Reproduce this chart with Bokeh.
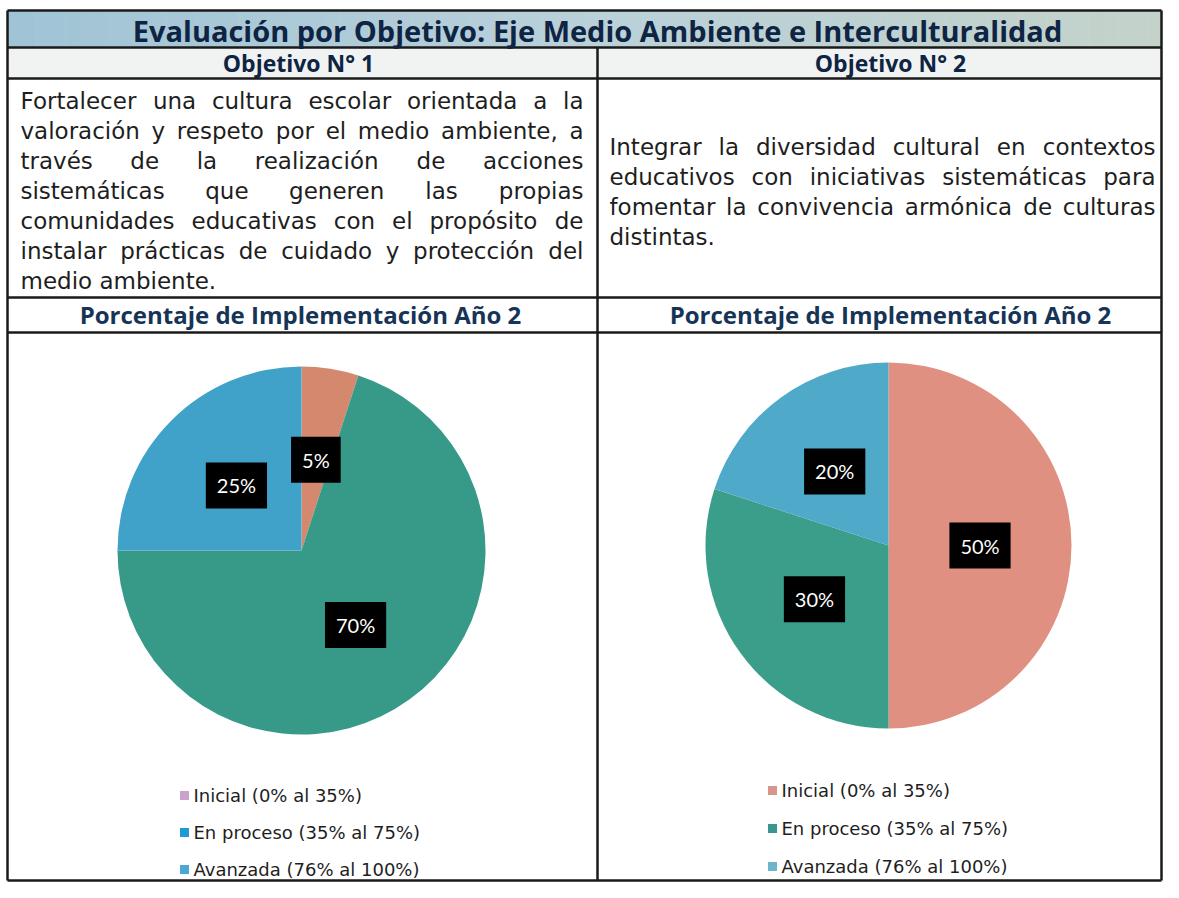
import numpy as np
from bokeh.plotting import figure
from bokeh.models import Range1d
from bokeh.core.properties import value
from bokeh.embed import file_html
from bokeh.resources import INLINE

# ---------------- data ----------------
title = "Evaluación por Objetivo: Eje Medio Ambiente e Interculturalidad"
objective_heads = ["Objetivo N° 1", "Objetivo N° 2"]
objective_1 = [
    "Fortalecer una cultura escolar orientada a la",
    "valoración y respeto por el medio ambiente, a",
    "través de la realización de acciones",
    "sistemáticas que generen las propias",
    "comunidades educativas con el propósito de",
    "instalar prácticas de cuidado y protección del",
    "medio ambiente.",
]
objective_2 = [
    "Integrar la diversidad cultural en contextos",
    "educativos con iniciativas sistemáticas para",
    "fomentar la convivencia armónica de culturas",
    "distintas.",
]
chart_title = "Porcentaje de Implementación Año 2"
categories = ["Inicial (0% al 35%)", "En proceso (35% al 75%)", "Avanzada (76% al 100%)"]
values_1 = [5, 70, 25]
values_2 = [50, 30, 20]

# ---------------- styles ----------------
pie_colors_1 = ["#d4896f", "#379a88", "#40a2c9"]
pie_colors_2 = ["#df9080", "#3a9e8a", "#4fa9c9"]
legend_colors_1 = ["#c9a3c9", "#1e9bd6", "#4ba8d6"]
legend_colors_2 = ["#d8968a", "#3b9690", "#6db5cc"]
NAVY = "#0e2442"
BODY = "#1e1e1e"
LINE = "#1a1a1a"
HEAD_FONT = "Open Sans"
BODY_FONT = "DejaVu Sans"

W, H = 1163, 882
H_REF = 898


def Y(py):
    return H_REF - py


p = figure(width=W, height=H, output_backend="svg", toolbar_location=None,
           x_range=Range1d(0, W), y_range=Range1d(Y(H), Y(0)),
           x_axis_location=None, y_axis_location=None, min_border=0,
           background_fill_color="white", border_fill_color="white")
p.grid.visible = False
p.outline_line_color = None

XL, XR, XM = 7, 1161, 597

# title band gradient
n = 80
xs = np.linspace(XL, XR, n + 1)
stops = np.array([[160, 196, 214], [186, 209, 218], [196, 211, 202]], dtype=float)
cols = []
for i in range(n):
    t = i / (n - 1) * 2
    k = min(int(t), 1)
    f = t - k
    c = stops[k] * (1 - f) + stops[k + 1] * f
    cols.append("#%02x%02x%02x" % tuple(int(v) for v in c))
p.quad(left=xs[:-1], right=xs[1:] + 0.5, top=Y(10), bottom=Y(47), fill_color=cols, line_color=None)
# second row light background
p.quad(left=[XL], right=[XR], top=[Y(47)], bottom=[Y(78)], fill_color="#f1f3f3", line_color=None)

# table lines
hy = [10, 47, 78, 297, 332, 880]
p.segment(x0=[XL] * len(hy), x1=[XR] * len(hy), y0=[Y(v) for v in hy], y1=[Y(v) for v in hy],
          line_color=LINE, line_width=2.5)
p.segment(x0=[XL, XM, XR], x1=[XL, XM, XR], y0=[Y(10), Y(47), Y(10)], y1=[Y(880)] * 3,
          line_color=LINE, line_width=2.5)

# titles
p.text(x=[597], y=[Y(30)], text=[title], text_font=value(HEAD_FONT), text_font_style="bold",
       text_font_size="29px", text_color=NAVY, text_align="center", text_baseline="middle")
p.text(x=[298, 890], y=[Y(62), Y(62)], text=objective_heads, text_font=value(HEAD_FONT),
       text_font_style="bold", text_font_size="23px", text_color=NAVY,
       text_align="center", text_baseline="middle")
p.text(x=[300, 890], y=[Y(314), Y(314)], text=[chart_title, chart_title], text_font=value(HEAD_FONT),
       text_font_style="bold", text_font_size="24px", text_color="#163456",
       text_align="center", text_baseline="middle")

# justified paragraph text (DejaVu Sans advance widths, em)
CW = {" ": 0.318, ".": 0.318, ",": 0.318}
base = {"a": .613, "b": .635, "c": .55, "d": .635, "e": .615, "f": .352, "g": .635, "h": .634,
        "i": .278, "j": .278, "k": .579, "l": .278, "m": .974, "n": .634, "o": .612, "p": .635,
        "q": .635, "r": .411, "s": .521, "t": .392, "u": .634, "v": .592, "w": .818, "x": .592,
        "y": .592, "z": .525, "á": .613, "é": .615, "í": .278, "ó": .612, "ú": .634, "ñ": .634,
        "F": .575, "I": .295}
CW.update(base)


def est_width(word, size):
    return sum(CW.get(ch, 0.68) for ch in word) * size


BODY_SIZE = 23


def justify(lines, x0, x1, py0, dy):
    L = dict(x=[], y=[], t=[])
    R = dict(x=[], y=[], t=[])
    for i, line in enumerate(lines):
        yy = Y(py0 + i * dy)
        words = line.split()
        if i == len(lines) - 1 or len(words) == 1:
            L["x"].append(x0); L["y"].append(yy); L["t"].append(line)
            continue
        widths = [est_width(w, BODY_SIZE) for w in words]
        gap = (x1 - x0 - sum(widths)) / (len(words) - 1)
        pos = x0
        for j, w in enumerate(words):
            if j == len(words) - 1:
                R["x"].append(x1); R["y"].append(yy); R["t"].append(w)
            else:
                L["x"].append(pos); L["y"].append(yy); L["t"].append(w)
            pos += widths[j] + gap
    for d, al in ((L, "left"), (R, "right")):
        p.text(x=d["x"], y=d["y"], text=d["t"], text_font=value(BODY_FONT),
               text_font_size="%dpx" % BODY_SIZE,
               text_color=BODY, text_align=al, text_baseline="middle")


justify(objective_1, 20, 583, 100, 30)
justify(objective_2, 609, 1155, 146, 30)


# pies
def pie(vals, colors, cx, cy, r):
    v = np.array(vals, dtype=float)
    cum = np.concatenate([[0], np.cumsum(v)]) / v.sum()
    start = np.pi / 2 - 2 * np.pi * cum[:-1]
    end = np.pi / 2 - 2 * np.pi * cum[1:]
    p.wedge(x=cx, y=cy, radius=r, start_angle=start, end_angle=end, direction="clock",
            fill_color=colors, line_color=None)
    mid = (start + end) / 2
    lx = cx + 0.5 * r * np.cos(mid)
    ly = cy + 0.5 * r * np.sin(mid)
    p.text(x=lx, y=ly, text=["%d%%" % x for x in vals], text_font=value("Lato"),
           text_font_size="20px", text_color="white", text_align="center", text_baseline="middle",
           background_fill_color="black", padding=11)


pie(values_1, pie_colors_1, 301, Y(550), 184)
pie(values_2, pie_colors_2, 888, Y(545), 183)


# legends
def legend(colors, mx, py_rows):
    ys = [Y(v) for v in py_rows]
    p.scatter(x=[mx] * 3, y=ys, marker="square", size=9, fill_color=colors, line_color=None)
    p.text(x=[mx + 9] * 3, y=ys, text=categories, text_font=value(BODY_FONT), text_font_size="18px",
           text_color=BODY, text_align="left", text_baseline="middle")


legend(legend_colors_1, 184, [795, 832, 869])
legend(legend_colors_2, 772, [790, 828, 866])

open("out.html", "w").write(file_html(p, INLINE))
